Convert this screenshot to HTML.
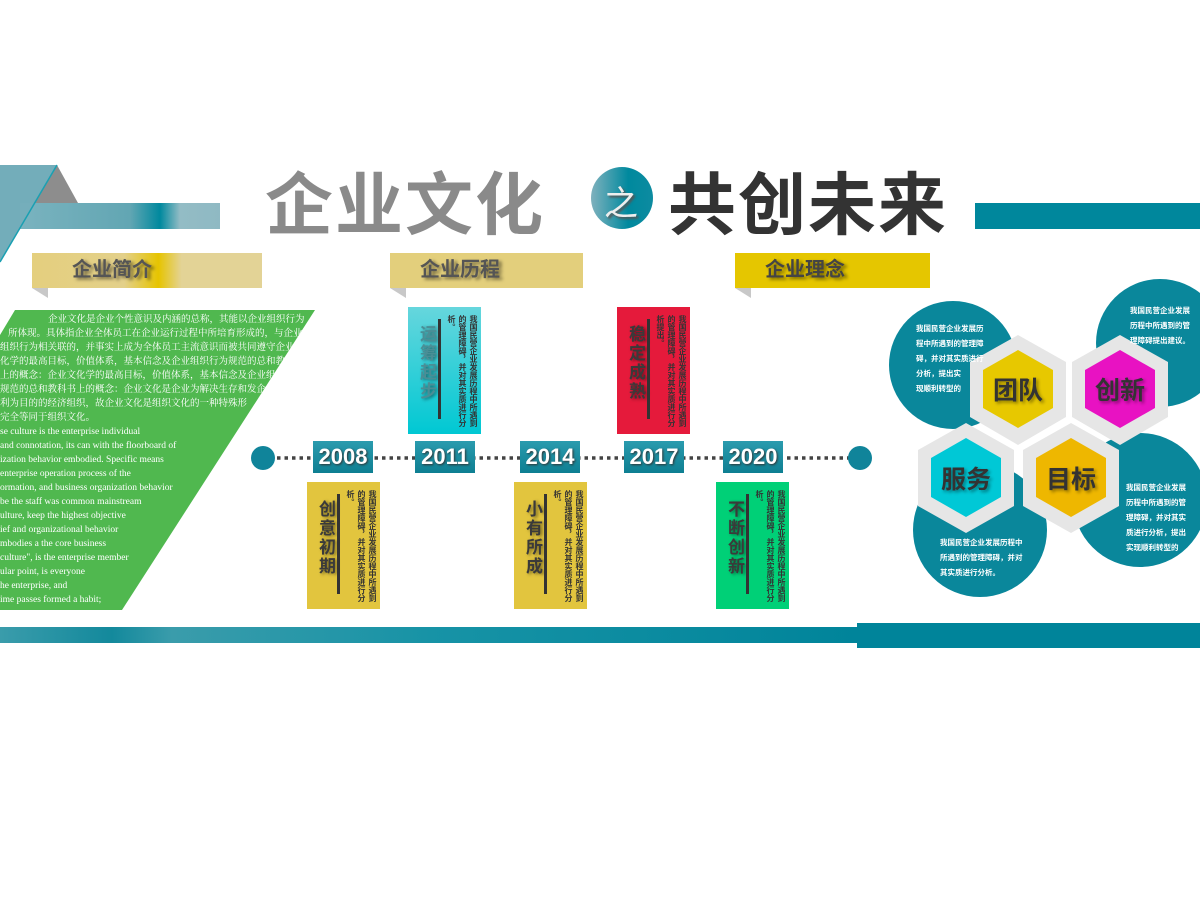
<!DOCTYPE html>
<html><head><meta charset="utf-8"><style>
*{margin:0;padding:0;box-sizing:border-box}
body{width:1200px;height:900px;background:#fff;position:relative;overflow:hidden;font-family:"Liberation Sans","Noto Sans CJK SC",sans-serif}
.a{position:absolute}
.lab{position:absolute;height:35px;top:253px;font-weight:bold;font-size:20px;color:#555;text-shadow:3px 2px 3px rgba(0,0,0,.5);line-height:35px}
.fold{position:absolute;top:288px;width:0;height:0;border-top:10px solid #c8c8c8;border-left:16px solid transparent}
.yr{position:absolute;top:441px;width:60px;height:32px;background:linear-gradient(#2a9bae,#0e7f92);color:#fff;font-size:22px;font-weight:bold;text-align:center;line-height:32px;text-shadow:1px 1px 2px #333}
.card{position:absolute;width:73px;height:127px}
.card .t{position:absolute;left:6px;top:18px;writing-mode:vertical-rl;font-size:17px;font-weight:bold;color:#3a3a3a;text-shadow:2px 1px 3px rgba(0,0,0,.5);letter-spacing:2px}
.card .ln{position:absolute;left:30px;top:12px;width:3px;height:100px;background:#333}
.card .s{position:absolute;left:38px;top:8px;height:112px;writing-mode:vertical-rl;font-size:8px;line-height:11px;color:#333;font-weight:bold}
.ct{position:absolute;font-size:7.5px;line-height:15px;color:#fff;font-weight:bold}
.hx{position:absolute;font-size:25px;font-weight:bold;color:#333;text-shadow:2px 2px 3px rgba(0,0,0,.4)}
.gt{font-family:"Liberation Serif","Noto Serif CJK SC",serif;color:#fff;font-size:9.5px;line-height:14px;white-space:nowrap}
</style></head><body>
<svg class="a" style="left:0;top:0" width="1200" height="900">
<defs>
<linearGradient id="bar" x1="0" x2="1"><stop offset="0" stop-color="#7ab3bf"/><stop offset=".55" stop-color="#62a6b3"/><stop offset=".7" stop-color="#00899e"/><stop offset=".8" stop-color="#93bcc5"/><stop offset="1" stop-color="#8fb9c3"/></linearGradient>
<linearGradient id="bb" x1="0" x2="1"><stop offset="0" stop-color="#3a9cab"/><stop offset=".13" stop-color="#13899c"/><stop offset=".2" stop-color="#3a9cab"/><stop offset=".5" stop-color="#1793a6"/><stop offset="1" stop-color="#00849a"/></linearGradient>
<linearGradient id="cg" x1="0" x2="1"><stop offset="0" stop-color="#7fb1bd"/><stop offset=".6" stop-color="#00899e"/><stop offset="1" stop-color="#0d8ba0"/></linearGradient>
</defs>
<polygon points="0,165 57,165 0,262" fill="#6aa8b6"/>
<polygon points="57,165 78,203 35,203" fill="#8d8d8d"/>
<rect x="20" y="203" width="200" height="26" fill="url(#bar)"/>
<polygon points="0,165 57,165 20,229 0,262" fill="#74adba" opacity=".9"/>
<line x1="57" y1="165" x2="0" y2="262" stroke="#1aa0b2" stroke-width="1.5"/>
<circle cx="622" cy="198" r="31" fill="url(#cg)"/>
<rect x="975" y="203" width="225" height="26" fill="#00879c"/>
<polygon points="15,310 315,310 122,610 0,610 0,335" fill="#50b84f"/>
<line x1="262" y1="458" x2="860" y2="458" stroke="#444" stroke-width="3.5" stroke-dasharray="3.5 4"/>
<circle cx="263" cy="458" r="12" fill="#10849a"/>
<circle cx="860" cy="458" r="12" fill="#10849a"/>
<rect x="0" y="627" width="860" height="16" fill="url(#bb)"/>
<rect x="857" y="623" width="343" height="25" fill="#00849a"/>
<circle cx="953" cy="365" r="64" fill="#0a879b"/>
<circle cx="1160" cy="343" r="64" fill="#0a879b"/>
<circle cx="1140" cy="500" r="67" fill="#0a879b"/>
<circle cx="980" cy="530" r="67" fill="#0a879b"/>
<g stroke="none">
<polygon points="1018,335 1066,362 1066,417 1018,445 970,417 970,362" fill="#e6e6e6"/>
<polygon points="1018,350 1053,370 1053,408 1018,428 983,408 983,370" fill="#e7c800"/>
<polygon points="1120,335 1168,362 1168,417 1120,445 1072,417 1072,362" fill="#e6e6e6"/>
<polygon points="1120,350 1155,370 1155,408 1120,428 1085,408 1085,370" fill="#e812c2"/>
<polygon points="966,423 1014,450 1014,506 966,533 918,506 918,450" fill="#e6e6e6"/>
<polygon points="966,438 1001,458 1001,497 966,517 931,497 931,458" fill="#00c8d6"/>
<polygon points="1071,423 1119,450 1119,506 1071,533 1023,506 1023,450" fill="#e6e6e6"/>
<polygon points="1071,438 1106,458 1106,497 1071,517 1036,497 1036,458" fill="#eeb700"/>
</g>
</svg>
<div class="a" style="left:265px;top:150px;font-size:68px;font-weight:bold;color:#8a8a8a;letter-spacing:2px">企业文化</div>
<div class="a" style="left:604px;top:176px;font-size:34px;color:#eee;text-shadow:2px 2px 2px #555">之</div>
<div class="a" style="left:668px;top:150px;font-size:68px;font-weight:bold;color:#333;letter-spacing:2px">共创未来</div>
<div class="lab" style="left:32px;width:230px;padding-left:40px;background:linear-gradient(90deg,#e4cf7e 0,#e3d08a 40%,#e6c400 55%,#e3d396 65%,#e3d396)">企业简介</div>
<div class="fold" style="left:32px"></div>
<div class="lab" style="left:390px;width:193px;padding-left:30px;background:#e3cf7c">企业历程</div>
<div class="fold" style="left:390px"></div>
<div class="lab" style="left:735px;width:195px;padding-left:30px;background:#e5c600;color:#444">企业理念</div>
<div class="fold" style="left:735px"></div>
<div class="a" style="left:0;top:310px;width:320px;height:300px;clip-path:polygon(15px 0,315px 0,122px 300px,0 300px,0 25px)">
<div class="gt" style="position:absolute;left:0;top:3px">
<div style="padding-left:48px">企业文化是企业个性意识及内涵的总称，其能以企业组织行为</div>
<div style="padding-left:8px">所体现。具体指企业全体员工在企业运行过程中所培育形成的，与企业</div>
<div>组织行为相关联的，并事实上成为全体员工主流意识而被共同遵守企业</div>
<div>化学的最高目标，价值体系，基本信念及企业组织行为规范的总和教</div>
<div>上的概念：企业文化学的最高目标，价值体系，基本信念及企业组</div>
<div>规范的总和教科书上的概念：企业文化是企业为解决生存和发企</div>
<div>利为目的的经济组织，故企业文化是组织文化的一种特殊形</div>
<div>完全等同于组织文化。</div>
<div>se culture is the enterprise individual</div>
<div>and connotation, its can with the floorboard of</div>
<div>ization behavior embodied. Specific means</div>
<div>enterprise operation process of the</div>
<div>ormation, and business organization behavior</div>
<div> be the staff was common mainstream</div>
<div>ulture, keep the highest objective</div>
<div>ief and organizational behavior</div>
<div>mbodies a the core business</div>
<div>culture", is the enterprise member</div>
<div>ular point, is everyone</div>
<div>he enterprise, and</div>
<div>ime passes formed a habit;</div>
</div></div>
<div class="yr" style="left:313px">2008</div>
<div class="yr" style="left:415px">2011</div>
<div class="yr" style="left:520px">2014</div>
<div class="yr" style="left:624px">2017</div>
<div class="yr" style="left:723px">2020</div>
<div class="card" style="left:408px;top:307px;background:linear-gradient(#66d6dd,#00c8d3)"><div class="t" style="color:#4a8e96">运筹起步</div><div class="ln"></div><div class="s">我国民营企业发展历程中所遇到的管理障碍，并对其实质进行分析。</div></div>
<div class="card" style="left:617px;top:307px;background:#e51a3b"><div class="t">稳定成熟</div><div class="ln"></div><div class="s">我国民营企业发展历程中所遇到的管理障碍，并对其实质进行分析提出。</div></div>
<div class="card" style="left:307px;top:482px;background:#e2c53e"><div class="t">创意初期</div><div class="ln"></div><div class="s">我国民营企业发展历程中所遇到的管理障碍，并对其实质进行分析。</div></div>
<div class="card" style="left:514px;top:482px;background:#e2c53e"><div class="t">小有所成</div><div class="ln"></div><div class="s">我国民营企业发展历程中所遇到的管理障碍，并对其实质进行分析。</div></div>
<div class="card" style="left:716px;top:482px;background:#00d077"><div class="t">不断创新</div><div class="ln"></div><div class="s">我国民营企业发展历程中所遇到的管理障碍，并对其实质进行分析。</div></div>
<div class="ct" style="left:916px;top:321px">我国民营企业发展历<br>程中所遇到的管理障<br>碍，并对其实质进行<br>分析，提出实<br>现顺利转型的</div>
<div class="ct" style="left:1130px;top:303px">我国民营企业发展<br>历程中所遇到的管<br>理障碍提出建议。</div>
<div class="ct" style="left:1126px;top:480px">我国民营企业发展<br>历程中所遇到的管<br>理障碍，并对其实<br>质进行分析，提出<br>实现顺利转型的</div>
<div class="ct" style="left:940px;top:535px">我国民营企业发展历程中<br>所遇到的管理障碍，并对<br>其实质进行分析。</div>
<div class="hx" style="left:993px;top:371px">团队</div>
<div class="hx" style="left:1095px;top:371px">创新</div>
<div class="hx" style="left:941px;top:460px">服务</div>
<div class="hx" style="left:1046px;top:460px">目标</div>
</body></html>
